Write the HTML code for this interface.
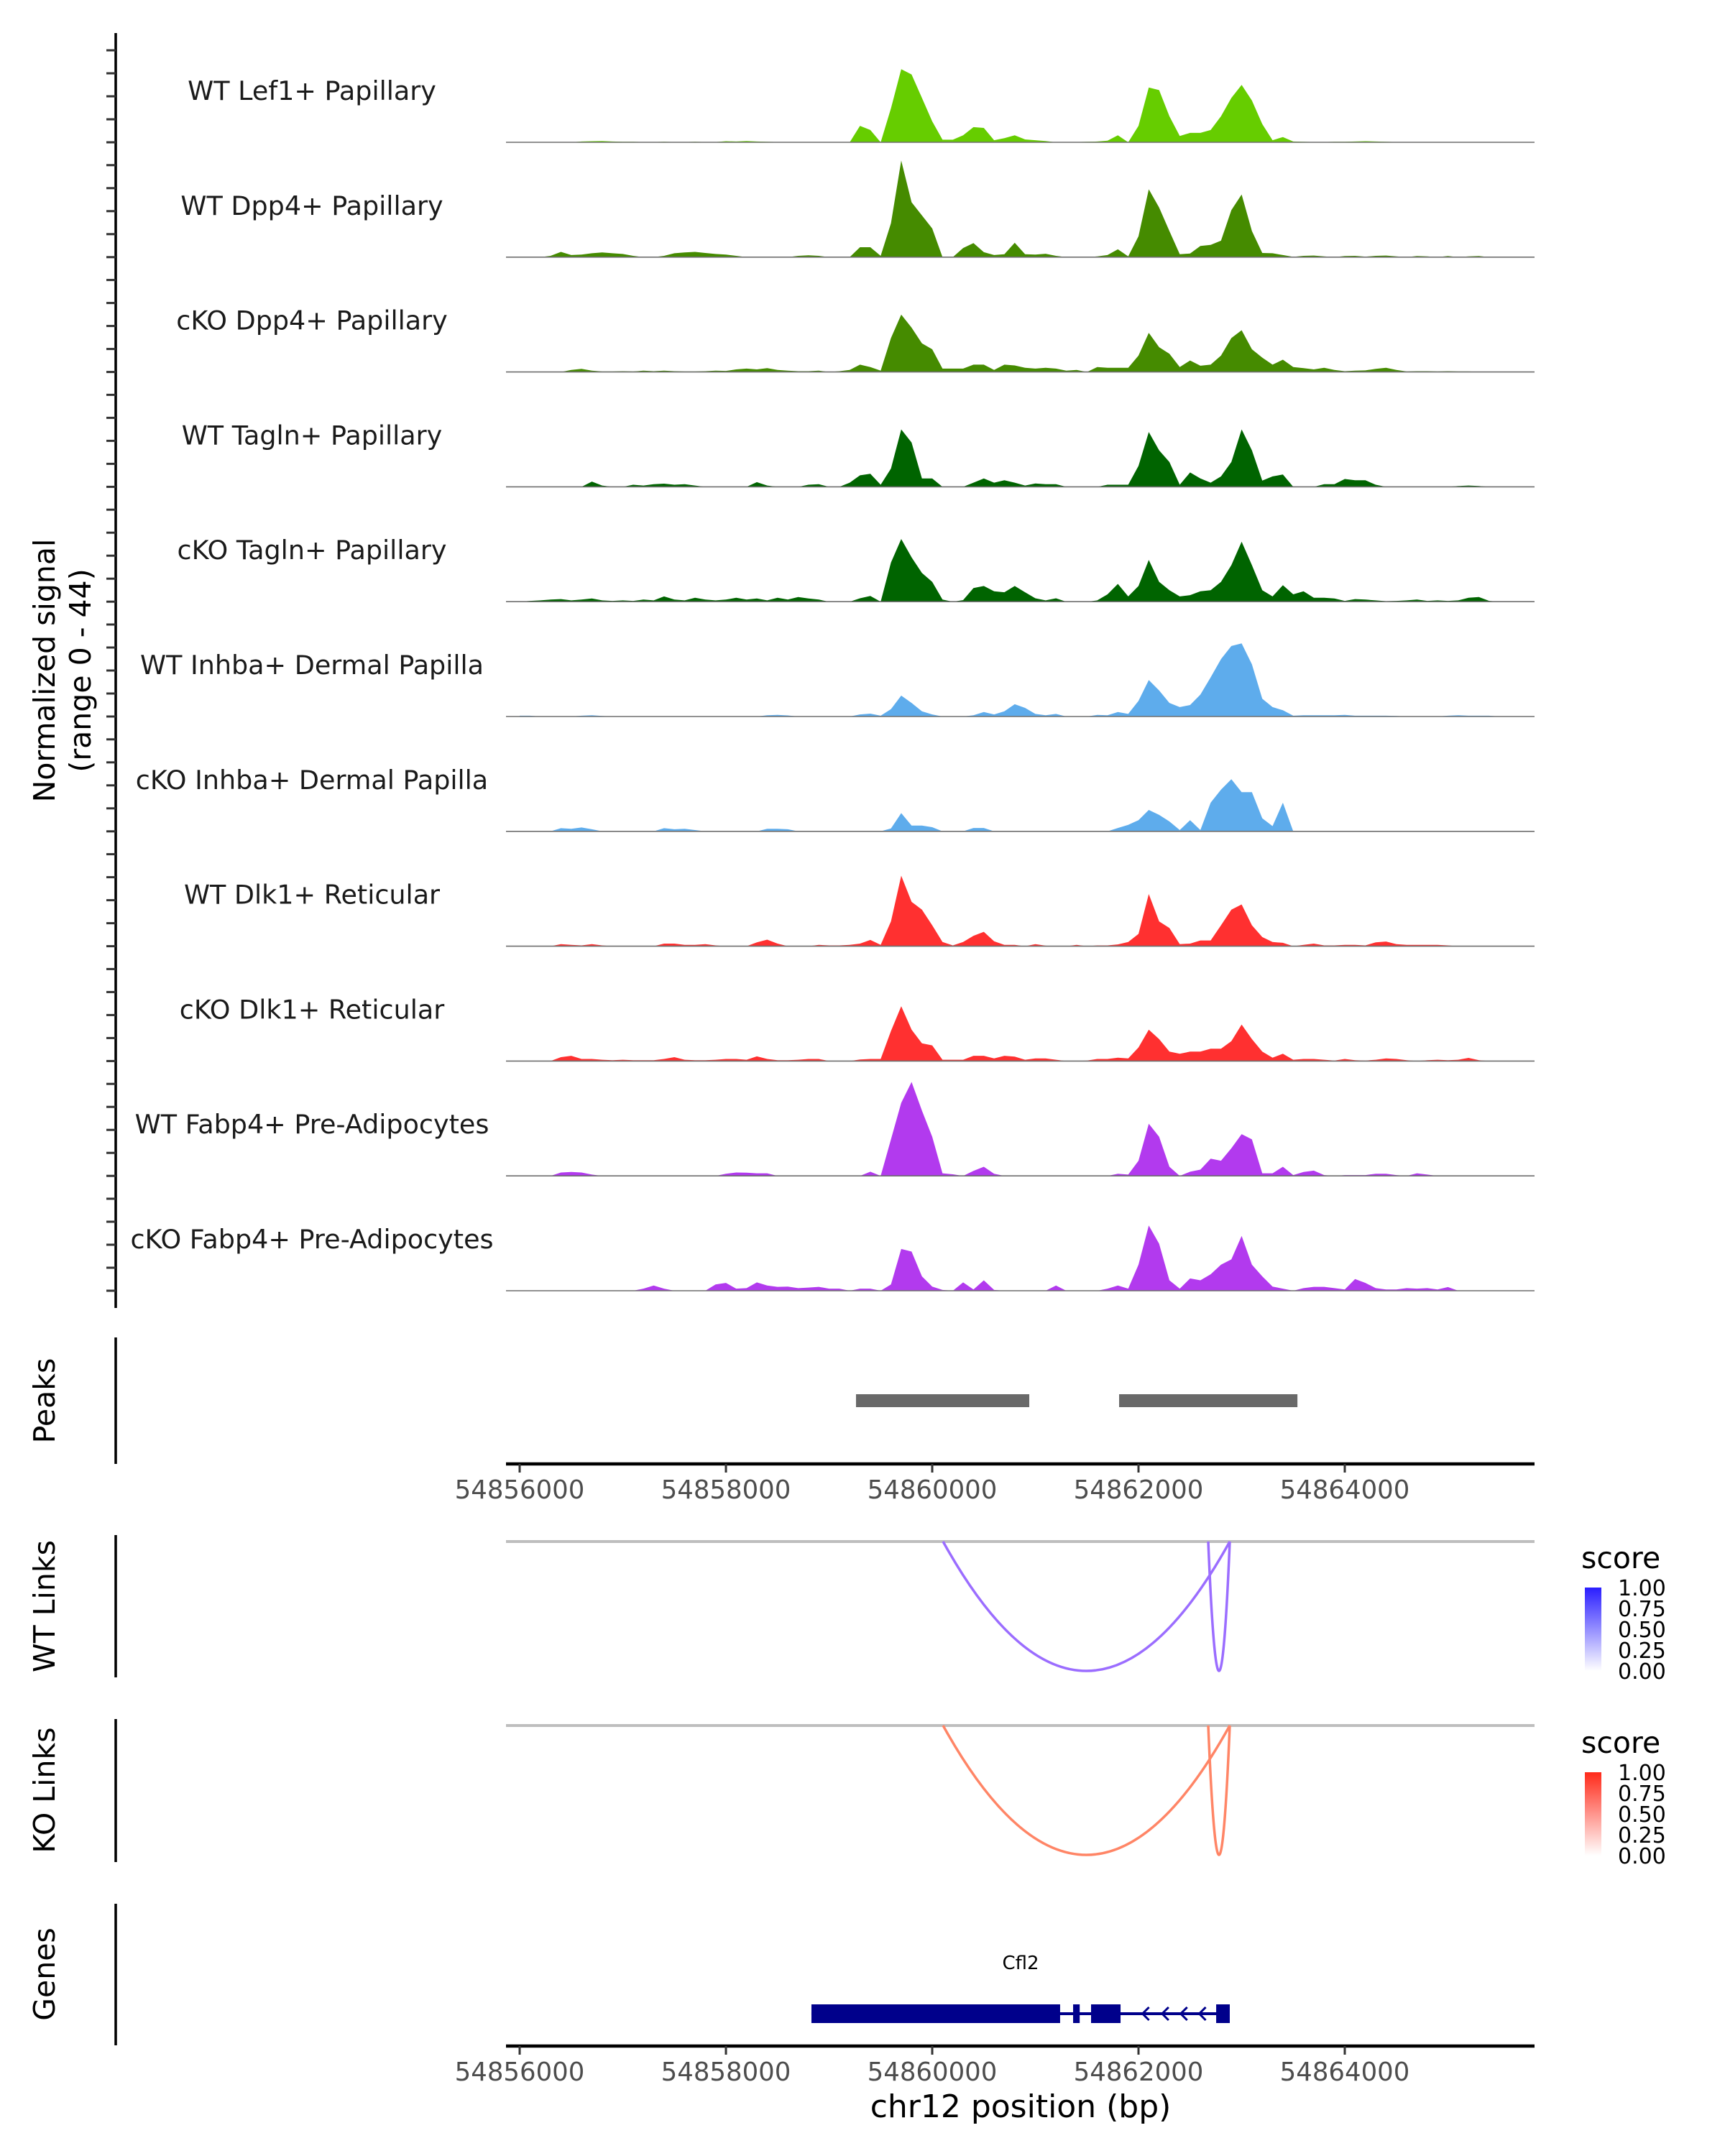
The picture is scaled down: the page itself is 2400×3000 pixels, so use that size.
<!DOCTYPE html>
<html><head><meta charset="utf-8"><style>
html,body{margin:0;padding:0;background:#fff;}
svg{display:block;font-family:"DejaVu Sans","Liberation Sans",sans-serif;}
</style></head><body>
<svg id="chart" width="2400" height="3000" viewBox="0 0 2400 3000" xmlns="http://www.w3.org/2000/svg">
<rect x="0" y="0" width="2400" height="3000" fill="#fff"/>
<g id="tracks"></g>
<g id="axes"></g>
<text transform="translate(76,933) rotate(-90)" text-anchor="middle" font-size="41" fill="#000">Normalized signal</text>
<text transform="translate(126,933) rotate(-90)" text-anchor="middle" font-size="41" fill="#000">(range 0 - 44)</text>
<text transform="translate(76,1949) rotate(-90)" text-anchor="middle" font-size="41" fill="#000">Peaks</text>
<text transform="translate(76,2235) rotate(-90)" text-anchor="middle" font-size="41" fill="#000">WT Links</text>
<text transform="translate(76,2491) rotate(-90)" text-anchor="middle" font-size="41" fill="#000">KO Links</text>
<text transform="translate(76,2747) rotate(-90)" text-anchor="middle" font-size="41" fill="#000">Genes</text>
<text x="1420" y="2946" text-anchor="middle" font-size="44" fill="#000">chr12 position (bp)</text>
<defs>
<linearGradient id="gblue" x1="0" y1="1" x2="0" y2="0"><stop offset="0" stop-color="#ffffff"/><stop offset="1" stop-color="#2a1eff"/></linearGradient>
<linearGradient id="gred" x1="0" y1="1" x2="0" y2="0"><stop offset="0" stop-color="#ffffff"/><stop offset="1" stop-color="#ff2a1a"/></linearGradient>
</defs>
<g>
<text x="2200" y="2182" font-size="41" fill="#000">score</text>
<rect x="2205" y="2209" width="23" height="116" fill="url(#gblue)"/>
<g font-size="30" fill="#000">
<text x="2251" y="2220">1.00</text><text x="2251" y="2249">0.75</text><text x="2251" y="2278">0.50</text><text x="2251" y="2307">0.25</text><text x="2251" y="2336">0.00</text></g>
</g>
<g>
<text x="2200" y="2439" font-size="41" fill="#000">score</text>
<rect x="2205" y="2466" width="23" height="116" fill="url(#gred)"/>
<g font-size="30" fill="#000">
<text x="2251" y="2477">1.00</text><text x="2251" y="2506">0.75</text><text x="2251" y="2535">0.50</text><text x="2251" y="2564">0.25</text><text x="2251" y="2593">0.00</text></g>
</g>
<g id="links"></g>
<g id="genes"></g>
</svg>
<script>
// ---- data (100bp bins starting at 54856000) ----
const trackNames = ["WT Lef1+ Papillary","WT Dpp4+ Papillary","cKO Dpp4+ Papillary","WT Tagln+ Papillary","cKO Tagln+ Papillary","WT Inhba+ Dermal Papilla","cKO Inhba+ Dermal Papilla","WT Dlk1+ Reticular","cKO Dlk1+ Reticular","WT Fabp4+ Pre-Adipocytes","cKO Fabp4+ Pre-Adipocytes"];
const trackColors = ["#66cd00","#458b00","#458b00","#006400","#006400","#5eacec","#5eacec","#ff3030","#ff3030","#b23aee","#b23aee"];
const sigLef1 = [0,0,0,0,0,0,0.3,0.4,0.5,0.3,0.2,0.2,0.1,0.1,0.2,0.1,0.1,0.2,0.1,0.1,0.4,0.3,0.5,0.3,0.2,0.1,0.1,0,0,0.1, 0,0,0,6.3,4.7,0,13,28,26,17,8,1,1,2.7,5.8,5.5,0.8,1.6,2.7,1.1,0.8,0.5,0,0,0.1,0.2,0.3,0.6,2.7,0,6.3,21,20,10,2.4,3.6,3.6,4.7,10,17,22,16,7,0.8,2,0.3, 0.2,0.1,0.1,0.2,0.2,0.3,0.4,0.3,0.2,0.1,0.1,0.1,0.1,0.1,0.1,0.1,0.1,0.1,0,0,0,0,0];
const sigWtDpp4 = [0,0,0,0.5,2,0.8,1,1.5,1.8,1.5,1.2,0.5,0,0,0.5,1.5,1.8,2,1.6,1.2,1,0.5,0,0,0,0,0,0.5,0.7,0.5, 0,0,0,3.8,3.8,0.5,13,37,21,16,11,0,0,3.5,5.4,1.9,0.8,1.1,5.5,1.1,1,1.3,0.5,0,0,0,0.3,0.8,3,0.3,8,26,19,10,1.1,1.4,4.3,4.7,6.3,18,24,10,1.6,1.5,0.8,0.1, 0.5,0.6,0.3,0,0.4,0.5,0.2,0.5,0.6,0.3,0,0.4,0.3,0,0.4,0,0.3,0.4,0,0,0,0,0];
const sigKoDpp4 = [0,0,0,0,0,0.8,1.2,0.5,0.2,0.2,0.3,0.2,0.5,0.3,0.5,0.3,0.2,0.2,0.3,0.5,0.4,1,1.3,1,1.5,0.8,0.5,0.3,0.3,0.5, 0,0.3,0.8,2.8,1.9,0.5,13,22,17,11,8.7,1.3,1.3,1.3,2.8,2.8,0.8,2.8,2.5,1.6,1.3,1.6,1.3,0.5,0.8,0,1.9,1.6,1.6,1.6,6.3,15,9.5,7,1.9,4.4,2.4,2.8,6.3,13,16,8.7,5.5,2.8,4.7,1.9, 1.5,1,1.6,0.8,0.3,0.5,0.6,1.2,1.6,0.8,0.2,0.3,0.3,0.2,0.3,0.2,0.2,0.1,0,0,0,0,0];
const sigWtTagln = [0,0,0,0,0,0,0,2,0.5,0,0,0.8,0.5,1,1.2,0.8,1,0.5,0,0,0,0,0,1.8,0.5,0,0,0,0.8,1, 0,0,1.6,4.4,5,0.8,7,22,17,3.2,3.2,0,0,0,1.6,3.2,1.6,2.5,1.6,0.5,1.3,1,1,0,0,0,0,0.8,0.8,0.8,8,21,14,9.5,0.8,5.5,3.2,1.6,4,9.5,22,14,2.4,4,4.7,0, 0,0,1,1,3,2.5,2.5,0.8,0,0,0,0,0,0,0,0.3,0.5,0.3,0,0,0,0,0];
const sigKoTagln = [0,0.3,0.5,0.8,1,0.5,0.8,1.2,0.5,0.3,0.5,0.3,0.8,0.5,2,0.8,0.5,1.5,0.8,0.5,0.8,1.5,0.8,1.2,0.5,1.5,0.8,1.8,1.2,0.8, 0,0,0,1.3,2.2,0,15,24,17,11,7.6,0.8,0,0.6,5.2,6,4,3.6,6,3.6,1.3,0.5,1.3,0,0,0,0.5,2.8,6.8,2,6,16,7.6,4.4,2,2.5,4,4.4,7.6,14,23,14,4.4,2,6.3,2.8, 4,1.5,1.5,1.2,0.3,1,0.8,0.5,0.2,0.3,0.5,0.8,0.3,0.5,0.3,0.5,1.5,1.8,0.3,0,0,0,0];
const sigWtInhba = [0.3,0.3,0,0,0,0,0.3,0.5,0.2,0,0,0,0,0,0,0,0,0,0,0,0,0,0,0,0.5,0.6,0.4,0,0,0, 0,0,0,0.8,1.1,0.3,2.8,8,5.2,2,0.8,0,0,0,0.5,1.7,0.8,2,4.7,3.3,1,0.5,1,0,0,0,0.6,0.5,1.7,1,6,14,10,5.2,3.6,4.4,8.4,15,22,27,28,20,6.8,3.6,2.4,0.3, 0.5,0.5,0.5,0.5,0.6,0.3,0.3,0.3,0.3,0.2,0,0,0,0,0.3,0.5,0.3,0.3,0.3,0,0,0,0];
const sigKoInhba = [0,0,0,0,1.2,1,1.5,0.8,0,0,0,0,0,0,1.2,0.8,1,0.5,0,0,0,0,0,0,1,1,0.8,0,0,0, 0,0,0,0,0,0,1.1,7,2.2,2.2,1.6,0,0,0,1.3,1.3,0,0,0,0,0,0,0,0,0,0,0,0,1.3,2.5,4.3,8.2,6.3,3.8,0.5,4.3,0.5,11,16,20,15,15,5,2,11,0, 0,0,0,0,0,0,0,0,0,0,0,0,0,0,0,0,0,0,0,0,0,0,0];
const sigWtDlk1 = [0,0,0,0,0.8,0.5,0.3,0.8,0.3,0,0,0,0,0,1,1,0.5,0.5,0.8,0.3,0,0,0,1.5,2.5,1,0,0,0,0.5, 0.3,0.3,0.5,1,2.4,0.5,9.5,27,17,14,8,1.6,0.3,1.6,4,5.5,1.9,0.5,0.5,0,0.8,0.2,0,0,0.5,0,0.3,0.3,0.7,1.6,4.7,20,9.5,7,0.8,1,2.2,2.2,8,14,16,8,3.5,1.6,1.3,0, 0.5,1,0.3,0.3,0.5,0.5,0.3,1.5,1.8,0.8,0.5,0.5,0.5,0.5,0.3,0,0,0,0,0,0,0,0];
const sigKoDlk1 = [0,0,0,0,1.5,2,0.8,0.8,0.5,0.3,0.5,0.3,0.3,0.3,0.8,1.5,0.5,0.3,0.3,0.5,0.8,0.8,0.5,1.8,0.8,0.3,0.3,0.5,0.8,0.8, 0,0,0,0.6,0.8,0.8,11.5,21,12,6.8,6,0.5,0.5,0.5,2,2,1,2,1.7,0.5,1,1,0.5,0,0,0.2,0.8,0.8,1.3,1,5.2,12,8.4,3.6,2.8,3.6,3.6,4.7,4.7,7.6,14,8.4,3.6,1.3,2.8,0.5, 0.8,0.8,0.5,0.2,0.8,0.3,0.2,0.5,1,0.8,0.3,0,0.3,0.5,0.3,0.5,1.2,0.3,0,0,0,0,0];
const sigWtFabp4 = [0,0,0,0,1.3,1.5,1.3,0.5,0,0,0,0,0,0,0,0,0,0,0,0,0.8,1.3,1.2,1,1,0,0,0,0,0, 0,0,0,0,1.6,0,14,28,36,25,15,1,0.6,0,1.9,3.5,0.8,0,0,0,0,0,0,0,0,0,0,0,0.8,0.5,5.8,20,15,3.5,0,1.6,2.4,6.6,5.8,10.6,16,14,1,1,3.5,0.3, 1.5,2,0.3,0,0.3,0.3,0.3,0.8,0.8,0.3,0,1,0.5,0,0,0,0,0,0,0,0,0,0];
const sigKoFabp4 = [0,0,0,0,0,0,0,0,0,0,0,0,0.8,2,0.8,0,0,0,0,2.4,3,0.8,1,3.2,2,1.5,1.6,1,1.2,1.5, 0.8,0.8,0,0.8,0.8,0,2.4,16,15,5.5,1.6,0.3,0,3.2,0.5,4,0.3,0,0,0,0,0,2,0,0,0,0,0.8,2,0.8,10,25,18,4,0.8,4.7,4,6.3,10,12,21,10,5.5,1.6,0.8,0, 1,1.5,1.5,1,0.5,4.5,3,1,0.5,0.5,1,0.8,1,0.5,1.4,0,0,0,0,0,0,0,0];
const signals = [sigLef1,sigWtDpp4,sigKoDpp4,sigWtTagln,sigKoTagln,sigWtInhba,sigKoInhba,sigWtDlk1,sigKoDlk1,sigWtFabp4,sigKoFabp4];
const binStart = 54856000, binSize = 100, yMax = 44;
const xTicks = [54856000,54858000,54860000,54862000,54864000];
const peakStarts = [54859261,54861812];
const peakEnds = [54860941,54863541];
const wtLinkStarts = [54860105,54862676];
const wtLinkEnds = [54862885,54862885];
const wtLinkScores = [0.55,0.55];
const koLinkStarts = [54860105,54862676];
const koLinkEnds = [54862885,54862885];
const koLinkScores = [0.55,0.55];
const exonStarts = [54858829,54861366,54861540,54862753];
const exonEnds = [54861240,54861430,54861826,54862885];
const geneStart = 54858829, geneEnd = 54862885;
const arrowPos = [54862060,54862250,54862430,54862610,54862780];

// ---- scales ----
const NS="http://www.w3.org/2000/svg";
const PL=704, PR=2135;
function xs(bp){return 723+(bp-54856000)*0.1435;}
const baseTop=198, trackH=159.8;
function mk(tag,attrs,parent){const e=document.createElementNS(NS,tag);for(const k in attrs)e.setAttribute(k,attrs[k]);parent.appendChild(e);return e;}

const tracks=document.getElementById('tracks');
signals.forEach((arr,ti)=>{
  const base=baseTop+ti*trackH;
  const g=mk('g',{},tracks);
  
  
  let d='M'+xs(binStart).toFixed(1)+','+base;
  arr.forEach((v,i)=>{const x=xs(binStart+i*binSize);const y=base-v/yMax*trackH;d+=' L'+x.toFixed(1)+','+y.toFixed(1);});
  d+=' L'+xs(binStart+(arr.length-1)*binSize).toFixed(1)+','+base+' Z';
  const p=mk('path',{d:d,fill:trackColors[ti],stroke:'none'},g);
  
  
  const bl=mk('line',{x1:PL,x2:PR,y1:base,y2:base,stroke:'#6e6e6e','stroke-width':1.6},g);
  
  
  const t=mk('text',{x:434,y:base-59,'text-anchor':'middle','font-size':36.5,fill:'#1a1a1a'},g);
  
  
  t.textContent=trackNames[ti];
});

const axes=document.getElementById('axes');
mk('line',{x1:161,x2:161,y1:46,y2:1820,stroke:'#000','stroke-width':3.5},axes);
for(let ti=0;ti<signals.length;ti++){
  const base=baseTop+ti*trackH;
  for(let k=0;k<5;k++){const y=base-k*32;mk('line',{x1:148,x2:161,y1:y,y2:y,stroke:'#333','stroke-width':3},axes);}
}
[[1861,2037],[2136,2334],[2392,2591],[2649,2846]].forEach(r=>{mk('line',{x1:161,x2:161,y1:r[0],y2:r[1],stroke:'#000','stroke-width':3.5},axes);});
[2037,2847].forEach((ay,ai)=>{
  const ax=mk('line',{x1:PL,x2:PR,y1:ay,y2:ay,stroke:'#000','stroke-width':4.5},axes);
  
  
  xTicks.forEach(tv=>{
    const x=xs(tv);
    mk('line',{x1:x,x2:x,y1:ay,y2:ay+12,stroke:'#333','stroke-width':3},axes);
    const t=mk('text',{x:x,y:ay+48,'text-anchor':'middle','font-size':35.5,fill:'#4d4d4d'},axes);
    
    
    t.textContent=String(tv);
  });
});
peakStarts.forEach((s,i)=>{
  const r=mk('rect',{x:xs(s),y:1940,width:xs(peakEnds[i])-xs(s),height:18,fill:'#696969'},axes);
  
  
});
const links=document.getElementById('links');
function drawLinks(starts,ends,scores,top,color){
  mk('line',{x1:PL,x2:PR,y1:top,y2:top,stroke:'#bebebe','stroke-width':4},links);
  starts.forEach((s,i)=>{
    const x1=xs(s),x2=xs(ends[i]);const depth=180*scores[i]/0.55;const c=top+depth*2;
    const p=mk('path',{d:`M${x1},${top} Q${(x1+x2)/2},${c} ${x2},${top}`,fill:'none',stroke:color,'stroke-width':3.5},links);
    
    
  });
}
drawLinks(wtLinkStarts,wtLinkEnds,wtLinkScores,2145,'#9b6dff');
drawLinks(koLinkStarts,koLinkEnds,koLinkScores,2401,'#ff8566');
const genes=document.getElementById('genes');
mk('line',{x1:xs(geneStart),x2:xs(geneEnd),y1:2802,y2:2802,stroke:'#00008b','stroke-width':4},genes);
exonStarts.forEach((s,i)=>{
  const r=mk('rect',{x:xs(s),y:2789,width:xs(exonEnds[i])-xs(s),height:26,fill:'#00008b'},genes);
  
  
});
arrowPos.forEach(a=>{const x=xs(a);mk('path',{d:`M${x+6},${2793} L${x-3},${2802} L${x+6},${2811}`,fill:'none',stroke:'#00008b','stroke-width':3},genes);});
const gl=mk('text',{x:1420,y:2740,'text-anchor':'middle','font-size':26,fill:'#000'},genes);


gl.textContent='Cfl2';
</script>
</body></html>
